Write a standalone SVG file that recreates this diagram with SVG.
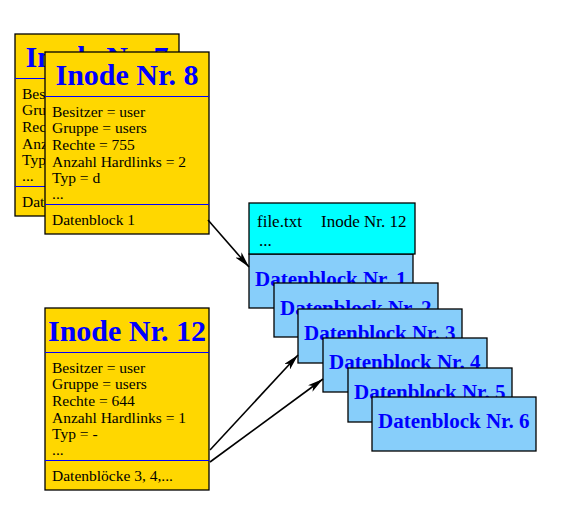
<svg xmlns="http://www.w3.org/2000/svg" width="574" height="506" viewBox="0 0 574 506">
<style>
.inode{fill:#FFD700;stroke:#000;stroke-width:1.3}
.sep{stroke:#0000FF;stroke-width:1}
.title{font-family:"Liberation Serif",serif;font-weight:bold;font-size:30px;fill:#0000FF;text-anchor:middle}
.body{font-family:"Liberation Serif",serif;font-size:15.5px;fill:#000}
.dir{fill:#00FFFF;stroke:#000;stroke-width:1.3}
.blk{fill:#87CEFA;stroke:#000;stroke-width:1.3}
.btxt{font-family:"Liberation Serif",serif;font-weight:bold;font-size:21px;fill:#0000FF}
.ftxt{font-family:"Liberation Serif",serif;font-size:17px;fill:#000}
.conn{stroke:#000;stroke-width:1.6;fill:none;marker-end:url(#ah)}
</style>
<defs>
<marker id="ah" viewBox="0 0 16 8" refX="16" refY="4" markerWidth="16" markerHeight="8" markerUnits="userSpaceOnUse" orient="auto">
<path d="M0,0 L16,4 L0,8 L4,4 Z" fill="#000"/>
</marker>
<clipPath id="c7"><rect x="15" y="34" width="30" height="182"/></clipPath>
</defs>
<rect width="574" height="506" fill="#fff"/>
<g id="inode7">
<rect class="inode" x="15" y="34" width="164" height="182"/>
<text class="title" x="97" y="67">Inode Nr. 7</text>
<line class="sep" x1="15" y1="78.5" x2="179" y2="78.5"/>
<g clip-path="url(#c7)">
<text class="body" x="22" y="99">Besitzer = user</text>
<text class="body" x="22" y="115">Gruppe = users</text>
<text class="body" x="22" y="132">Rechte = 755</text>
<text class="body" x="22" y="149">Anzahl Hardlinks = 2</text>
<text class="body" x="22" y="165">Typ = d</text>
<text class="body" x="22" y="181">...</text>
<text class="body" x="22" y="207">Datenblock 1</text>
</g>
<line class="sep" x1="15" y1="186.5" x2="179" y2="186.5"/>
</g>
<g id="inode8">
<rect class="inode" x="45" y="52" width="164" height="182"/>
<text class="title" x="127" y="85">Inode Nr. 8</text>
<line class="sep" x1="45" y1="96.5" x2="209" y2="96.5"/>
<text class="body" x="52" y="117">Besitzer = user</text>
<text class="body" x="52" y="133">Gruppe = users</text>
<text class="body" x="52" y="150">Rechte = 755</text>
<text class="body" x="52" y="167">Anzahl Hardlinks = 2</text>
<text class="body" x="52" y="183">Typ = d</text>
<text class="body" x="52" y="199">...</text>
<line class="sep" x1="45" y1="204.5" x2="209" y2="204.5"/>
<text class="body" x="52" y="225">Datenblock 1</text>
</g>
<g id="inode12">
<rect class="inode" x="45" y="308" width="164" height="182"/>
<text class="title" x="127" y="341">Inode Nr. 12</text>
<line class="sep" x1="45" y1="352.5" x2="209" y2="352.5"/>
<text class="body" x="52" y="373">Besitzer = user</text>
<text class="body" x="52" y="389">Gruppe = users</text>
<text class="body" x="52" y="406">Rechte = 644</text>
<text class="body" x="52" y="423">Anzahl Hardlinks = 1</text>
<text class="body" x="52" y="439">Typ = -</text>
<text class="body" x="52" y="455">...</text>
<line class="sep" x1="45" y1="460.5" x2="209" y2="460.5"/>
<text class="body" x="52" y="481">Datenblöcke 3, 4,...</text>
</g>
<g id="block1">
<rect class="blk" x="249" y="254" width="164" height="54"/>
<text class="btxt" x="255" y="286">Datenblock Nr. 1</text>
</g>
<g id="dirfile">
<rect class="dir" x="249" y="203" width="166" height="51"/>
<text class="ftxt" x="257" y="227">file.txt</text>
<text class="ftxt" x="321" y="227">Inode Nr. 12</text>
<text class="ftxt" x="259" y="246">...</text>
</g>
<g id="block2">
<rect class="blk" x="274" y="283" width="164" height="54"/>
<text class="btxt" x="280" y="315">Datenblock Nr. 2</text>
</g>
<g id="block3">
<rect class="blk" x="298" y="309" width="164" height="54"/>
<text class="btxt" x="304" y="340">Datenblock Nr. 3</text>
</g>
<g id="block4">
<rect class="blk" x="323" y="338" width="164" height="54"/>
<text class="btxt" x="329" y="369">Datenblock Nr. 4</text>
</g>
<g id="block5">
<rect class="blk" x="348" y="368" width="164" height="54"/>
<text class="btxt" x="354" y="399">Datenblock Nr. 5</text>
</g>
<g id="block6">
<rect class="blk" x="372" y="397" width="164" height="54"/>
<text class="btxt" x="378" y="428">Datenblock Nr. 6</text>
</g>
<g id="connectors">
<line class="conn" x1="208" y1="220" x2="249" y2="267"/>
<line class="conn" x1="210" y1="450" x2="298" y2="355"/>
<line class="conn" x1="210" y1="462" x2="323" y2="379"/>
</g>
</svg>
